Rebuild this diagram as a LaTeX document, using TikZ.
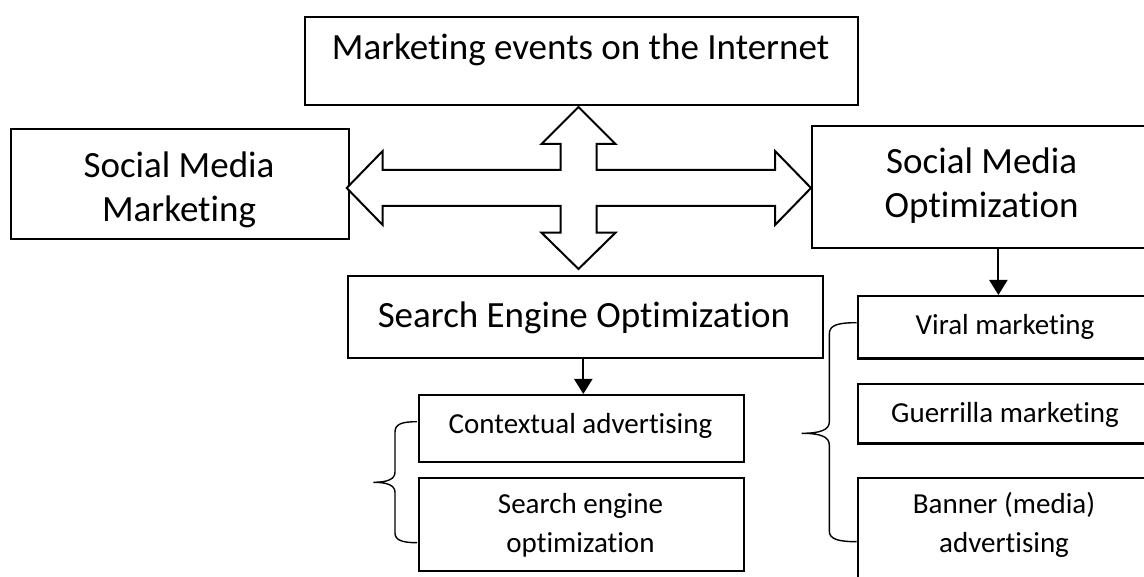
\documentclass[tikz,border=0pt]{standalone}
\usepackage{fontspec}
\setmainfont[Ligatures=NoCommon]{Carlito}
\usetikzlibrary{arrows.meta}
\begin{document}
\begin{tikzpicture}[x=1pt,y=-1pt,
  box/.style={draw, line width=2.2pt, inner sep=0pt, anchor=north west},
  big/.style={font=\fontsize{37}{44}\selectfont, align=center, inner sep=0pt},
  small/.style={font=\fontsize{29}{39}\selectfont, align=center, inner sep=0pt},
  link/.style={line width=2pt, -{Triangle[length=15pt,width=18pt]}},
  brace/.style={line width=1.4pt},
  cross/.style={draw, line width=2pt, fill=white, line join=miter}]
\useasboundingbox (0,0) rectangle (1144,577);
\clip (0,0) rectangle (1144,577);

% boxes
\node[box, minimum width=553, minimum height=88]  (events) at (304,16) {};
\node[box, minimum width=338, minimum height=110] (smm)    at (10,128.3) {};
\node[box, minimum width=342, minimum height=122] (smo)    at (810.7,125) {};
\node[box, minimum width=475, minimum height=82]  (seo)    at (346.7,275) {};
\node[box, minimum width=325, minimum height=66.5] (ctx)   at (418,394) {};
\node[box, minimum width=325, minimum height=93]  (seopt)  at (418,476.5) {};
\node[box, minimum width=296, minimum height=62.5] (viral) at (856.7,295) {};
\node[box, minimum width=296, minimum height=59]  (guer)   at (856.7,383.3) {};
\node[box, minimum width=296, minimum height=110] (banner) at (856.7,476.7) {};

% texts
\node[big, anchor=base] (eventsT) at (580.5,59.5) {Marketing events on the Internet};
\node[big] (smmT) at (179,190) {Social Media\\Marketing};
\node[big] (smoT) at (981.7,186) {Social Media\\Optimization};
\node[big, anchor=base] (seoT) at (584,328) {Search Engine Optimization};
\node[small, anchor=base] (ctxT) at (580.5,433) {Contextual advertising};
\node[small] (seoptT) at (580.5,525.4) {Search engine\\optimization};
\node[small, anchor=base] (viralT) at (1005,335) {Viral marketing};
\node[small, anchor=base] (guerT) at (1005,422) {Guerrilla marketing};
\node[small] (bannerT) at (1004,525) {Banner (media)\\advertising};

% four-way block arrow
\draw[cross] (578.5,107) -- (615.5,144) -- (596.5,144) -- (596.5,170) -- (775,170)
  -- (775,151) -- (811,188) -- (775,225) -- (775,206) -- (596.5,206) -- (596.5,232.7)
  -- (615.5,232.7) -- (578.5,269) -- (541.5,232.7) -- (560.5,232.7) -- (560.5,206)
  -- (382.7,206) -- (382.7,225) -- (346.7,188) -- (382.7,151) -- (382.7,170)
  -- (560.5,170) -- (560.5,144) -- (541.5,144) -- cycle;

% downward links
\draw[link] ([xshift=-2pt]seo.south) -- ([xshift=-2pt]seo.south |- ctx.north);
\draw[link] ([xshift=15.6pt]smo.south) -- ([xshift=15.6pt]smo.south |- viral.north);

% braces
\draw[brace] (417,421.7) .. controls (402,421.7) and (395,424) .. (395,432) -- (395,472)
  .. controls (395,479) and (388,482.3) .. (373.3,482.3)
  .. controls (388,482.3) and (395,485.5) .. (395,492.5) -- (395,533)
  .. controls (395,540) and (402,542.7) .. (417,542.7);
\draw[brace] (856.7,322.7) .. controls (838,322.7) and (829.3,325) .. (829.3,334) -- (829.3,422)
  .. controls (829.3,430) and (820,433.3) .. (801.7,433.3)
  .. controls (820,433.3) and (829.3,436.5) .. (829.3,445) -- (829.3,531)
  .. controls (829.3,539) and (838,541.7) .. (856.7,541.7);
\end{tikzpicture}
\end{document}
